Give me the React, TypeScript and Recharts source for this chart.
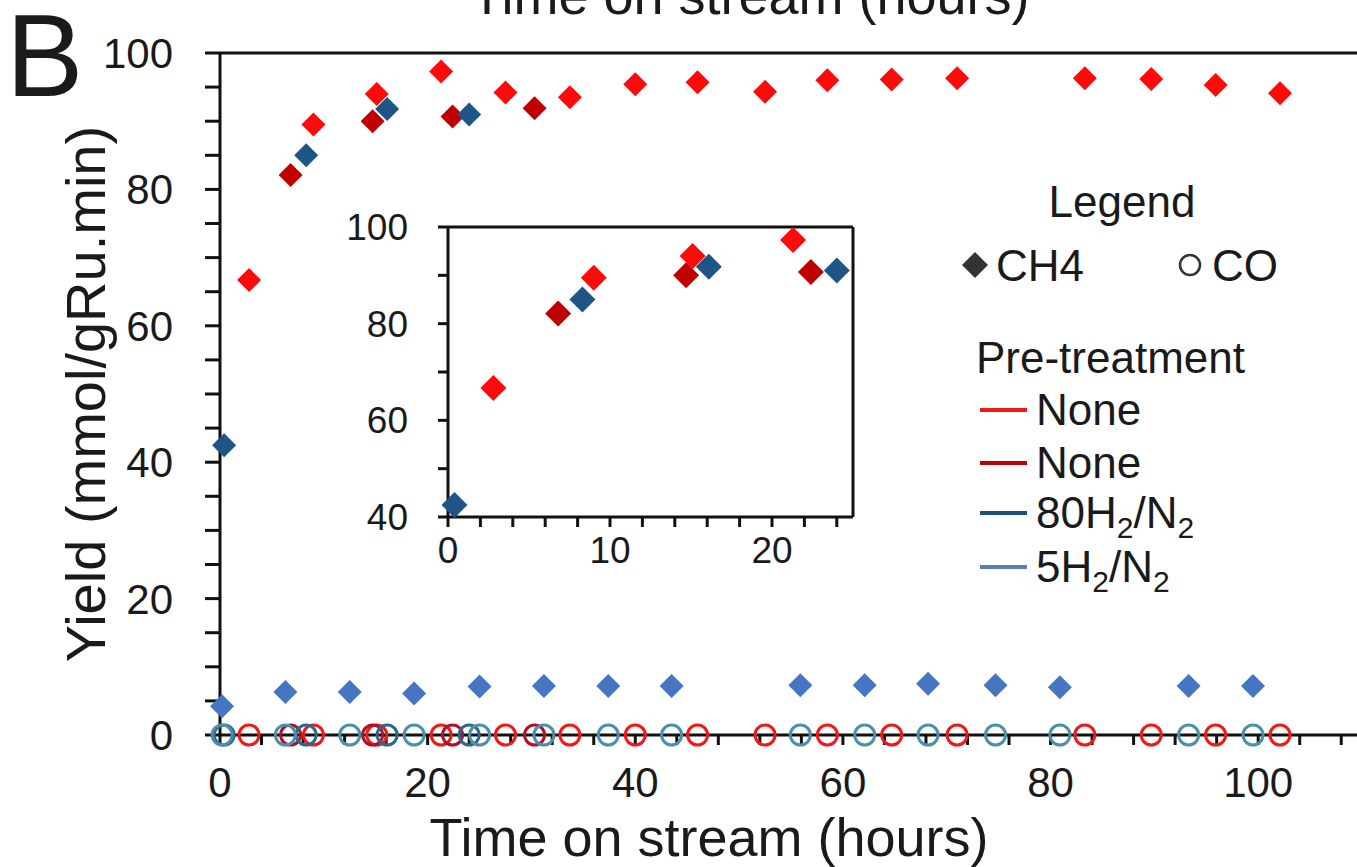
import React from "react";
import { ScatterChart, Scatter, XAxis, YAxis, ReferenceLine } from "recharts";

// time on stream (hours) and yields (mmol/gRu.min)
const noneTime = [2.8, 9.0, 15.1, 21.3, 27.5, 33.7, 40.0, 46.0, 52.5, 58.5, 64.7, 71.0, 83.3, 89.7, 95.9, 102.1];
const noneCH4 = [66.7, 89.5, 94.0, 97.3, 94.2, 93.5, 95.4, 95.7, 94.3, 96.0, 96.1, 96.3, 96.3, 96.2, 95.3, 94.1];
const noneCO = [0, 0, 0, 0, 0, 0, 0, 0, 0, 0, 0, 0, 0, 0, 0, 0];

const none2Time = [6.8, 14.7, 22.4, 30.3];
const none2CH4 = [82.1, 90.0, 90.7, 91.9];
const none2CO = [0, 0, 0, 0];

const h80Time = [0.4, 8.3, 16.1, 24.0];
const h80CH4 = [42.5, 85.0, 91.8, 91.0];
const h80CO = [0, 0, 0, 0];

const h5Time = [0.2, 6.3, 12.5, 18.7, 25.0, 31.2, 37.4, 43.5, 55.9, 62.1, 68.2, 74.7, 80.9, 93.3, 99.5];
const h5CH4 = [4.2, 6.3, 6.3, 6.1, 7.1, 7.2, 7.2, 7.2, 7.3, 7.3, 7.5, 7.3, 7.0, 7.2, 7.2];
const h5CO = [0, 0, 0, 0, 0, 0, 0, 0, 0, 0, 0, 0, 0, 0, 0];

const xTicks = [0, 4, 8, 12, 16, 20, 24, 28, 32, 36, 40, 44, 48, 52, 56, 60, 64, 68, 72, 76, 80, 84, 88, 92, 96, 100, 104, 108];
const yTicks = [0, 5, 10, 15, 20, 25, 30, 35, 40, 45, 50, 55, 60, 65, 70, 75, 80, 85, 90, 95, 100];
const insetXTicks = [0, 2, 4, 6, 8, 10, 12, 14, 16, 18, 20, 22, 24];
const insetYTicks = [40, 50, 60, 70, 80, 90, 100];

const FONT = "'Liberation Sans', Arial, sans-serif";
const INK = "#1a1a1a";

const zip = (t: number[], v: number[]) => t.map((x, i) => ({ t: x, v: v[i] }));

const series = [
  { name: "None", time: noneTime, ch4: noneCH4, co: noneCO, fill: "#ff0a0a", ring: "#f01818" },
  { name: "None 2", time: none2Time, ch4: none2CH4, co: none2CO, fill: "#c00000", ring: "#b0102a" },
  { name: "80H2/N2", time: h80Time, ch4: h80CH4, co: h80CO, fill: "#1f5586", ring: "#2a6a88" },
  { name: "5H2/N2", time: h5Time, ch4: h5CH4, co: h5CO, fill: "#4676c2", ring: "#4a90a8" },
];

const diamond = (color: string, r: number) => (p: any) => (
  <polygon
    points={`${p.cx},${p.cy - r} ${p.cx + r},${p.cy} ${p.cx},${p.cy + r} ${p.cx - r},${p.cy}`}
    fill={color}
  />
);

const ring = (color: string) => (p: any) => (
  <circle cx={p.cx} cy={p.cy} r={10} fill="none" stroke={color} strokeWidth={3} />
);

const XTitle = (p: any) => {
  const vb = p.viewBox || {};
  return (
    <text x={vb.x + 489} y={vb.y + 121} textAnchor="middle" fontSize={54} fill={INK} fontFamily={FONT}>
      Time on stream (hours)
    </text>
  );
};

const YTitle = (p: any) => {
  const vb = p.viewBox || {};
  const cx = vb.x + 85;
  const cy = vb.y + vb.height / 2;
  return (
    <text
      x={cx}
      y={cy}
      transform={`rotate(-90 ${cx} ${cy})`}
      textAnchor="middle"
      dominantBaseline="central"
      fontSize={56}
      fill={INK}
      fontFamily={FONT}
    >
      Yield (mmol/gRu.min)
    </text>
  );
};

const axisStroke = { stroke: "#111", strokeWidth: 3 };

export default function App() {
  return (
    <div
      style={{
        position: "absolute",
        left: 0,
        top: 0,
        width: 1357,
        height: 867,
        overflow: "hidden",
        background: "#fff",
        fontFamily: FONT,
      }}
    >
      <ScatterChart width={1370} height={867} margin={{ top: 53, right: 8, bottom: 0, left: 0 }}>
        <XAxis
          type="number"
          dataKey="t"
          domain={[0, 110]}
          ticks={xTicks}
          interval={0}
          tickFormatter={(v: number) => (v % 20 === 0 ? String(v) : "")}
          height={132}
          tickSize={10}
          tickMargin={22}
          axisLine={axisStroke}
          tickLine={axisStroke}
          tick={{ fontSize: 42, fill: INK, fontFamily: FONT }}
          label={<XTitle />}
        />
        <YAxis
          type="number"
          dataKey="v"
          domain={[0, 100]}
          ticks={yTicks}
          interval={0}
          tickFormatter={(v: number) => (v % 20 === 0 ? String(v) : "")}
          width={220}
          tickSize={15}
          tickMargin={32}
          axisLine={axisStroke}
          tickLine={axisStroke}
          tick={{ fontSize: 42, fill: INK, fontFamily: FONT }}
          label={<YTitle />}
        />
        <ReferenceLine y={100} stroke="#111" strokeWidth={3} />
        {series.map((s) => (
          <Scatter
            key={s.name + "co"}
            data={zip(s.time, s.co)}
            shape={ring(s.ring)}
            isAnimationActive={false}
          />
        ))}
        {series.map((s) => (
          <Scatter
            key={s.name + "ch4"}
            data={zip(s.time, s.ch4)}
            shape={diamond(s.fill, 12)}
            isAnimationActive={false}
          />
        ))}
      </ScatterChart>

      {/* inset: first 25 hours */}
      <div style={{ position: "absolute", left: 330, top: 200 }}>
        <ScatterChart width={540} height={380} margin={{ top: 27, right: 17, bottom: 0, left: 0 }}>
          <XAxis
            type="number"
            dataKey="t"
            domain={[0, 25]}
            ticks={insetXTicks}
            interval={0}
            tickFormatter={(v: number) => (v % 10 === 0 ? String(v) : "")}
            height={63}
            tickSize={10}
            tickMargin={10}
            axisLine={axisStroke}
            tickLine={axisStroke}
            tick={{ fontSize: 37, fill: INK, fontFamily: FONT }}
          />
          <YAxis
            type="number"
            dataKey="v"
            domain={[40, 100]}
            ticks={insetYTicks}
            interval={0}
            tickFormatter={(v: number) => (v % 20 === 0 ? String(v) : "")}
            width={118}
            tickSize={10}
            tickMargin={30}
            axisLine={axisStroke}
            tickLine={axisStroke}
            tick={{ fontSize: 37, fill: INK, fontFamily: FONT }}
          />
          <ReferenceLine y={100} stroke="#111" strokeWidth={3} />
          <ReferenceLine x={25} stroke="#111" strokeWidth={3} />
          {series.map((s) => (
            <Scatter
              key={s.name + "inset"}
              data={zip(s.time, s.ch4).filter((d) => d.t <= 25 && d.v >= 40)}
              shape={diamond(s.fill, 13)}
              isAnimationActive={false}
            />
          ))}
        </ScatterChart>
      </div>

      {/* panel letter, clipped title of the panel above, and legend */}
      <svg
        width={1357}
        height={867}
        style={{ position: "absolute", left: 0, top: 0, pointerEvents: "none" }}
        fontFamily={FONT}
        fill={INK}
      >
        <text x={6} y={96} fontSize={116}>B</text>
        <text x={750} y={14} fontSize={54} textAnchor="middle">Time on stream (hours)</text>

        <text x={1122} y={217} fontSize={44} textAnchor="middle">Legend</text>
        <polygon points="975,252 988,265 975,278 962,265" fill="#333" />
        <text x={996} y={281} fontSize={44}>CH4</text>
        <circle cx={1190} cy={265} r={10} fill="none" stroke="#333" strokeWidth={2.5} />
        <text x={1212} y={281} fontSize={44}>CO</text>

        <text x={976} y={373} fontSize={44}>Pre-treatment</text>
        <line x1={980} x2={1027} y1={410} y2={410} stroke="#f01818" strokeWidth={4} />
        <text x={1036} y={425} fontSize={44}>None</text>
        <line x1={980} x2={1027} y1={463} y2={463} stroke="#c00000" strokeWidth={4} />
        <text x={1036} y={478} fontSize={44}>None</text>
        <line x1={980} x2={1027} y1={513} y2={513} stroke="#1f4e79" strokeWidth={4} />
        <text x={1036} y={528} fontSize={44}>
          80H<tspan fontSize={30} dy={10}>2</tspan>
          <tspan dy={-10}>/N</tspan>
          <tspan fontSize={30} dy={10}>2</tspan>
        </text>
        <line x1={980} x2={1027} y1={567} y2={567} stroke="#5b7db8" strokeWidth={4} />
        <text x={1036} y={582} fontSize={44}>
          5H<tspan fontSize={30} dy={10}>2</tspan>
          <tspan dy={-10}>/N</tspan>
          <tspan fontSize={30} dy={10}>2</tspan>
        </text>
      </svg>
    </div>
  );
}
